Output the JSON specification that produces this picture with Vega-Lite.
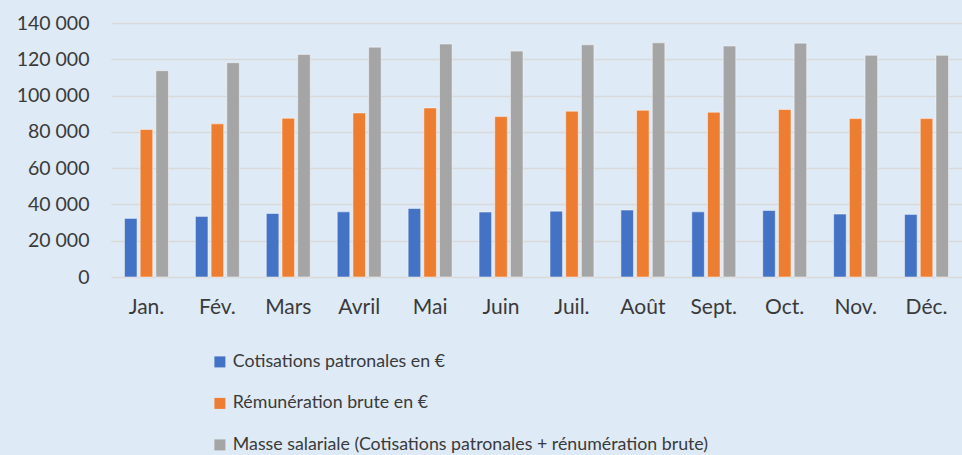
{
  "$schema": "https://vega.github.io/schema/vega-lite/v6.json",
  "width": 851,
  "height": 254,
  "autosize": {"type": "none"},
  "padding": {"left": 111, "top": 23, "right": 0, "bottom": 178},
  "background": "#DEEAF6",
  "config": {
    "view": {"stroke": null},
    "font": "Lato",
    "axis": {"labelFont": "Lato", "labelColor": "#3A3A3A"},
    "legend": {"labelFont": "Lato", "labelColor": "#3A3A3A"}
  },
  "data": {
    "values": [
      {"mois": "Jan.", "serie": "Cotisations patronales en €", "valeur": 32300},
      {"mois": "Jan.", "serie": "Rémunération brute en €", "valeur": 81300},
      {"mois": "Jan.", "serie": "Masse salariale (Cotisations patronales + rénumération brute)", "valeur": 113700},
      {"mois": "Fév.", "serie": "Cotisations patronales en €", "valeur": 33400},
      {"mois": "Fév.", "serie": "Rémunération brute en €", "valeur": 84400},
      {"mois": "Fév.", "serie": "Masse salariale (Cotisations patronales + rénumération brute)", "valeur": 118100},
      {"mois": "Mars", "serie": "Cotisations patronales en €", "valeur": 35000},
      {"mois": "Mars", "serie": "Rémunération brute en €", "valeur": 87500},
      {"mois": "Mars", "serie": "Masse salariale (Cotisations patronales + rénumération brute)", "valeur": 122700},
      {"mois": "Avril", "serie": "Cotisations patronales en €", "valeur": 35900},
      {"mois": "Avril", "serie": "Rémunération brute en €", "valeur": 90400},
      {"mois": "Avril", "serie": "Masse salariale (Cotisations patronales + rénumération brute)", "valeur": 126700},
      {"mois": "Mai", "serie": "Cotisations patronales en €", "valeur": 37800},
      {"mois": "Mai", "serie": "Rémunération brute en €", "valeur": 93200},
      {"mois": "Mai", "serie": "Masse salariale (Cotisations patronales + rénumération brute)", "valeur": 128400},
      {"mois": "Juin", "serie": "Cotisations patronales en €", "valeur": 35800},
      {"mois": "Juin", "serie": "Rémunération brute en €", "valeur": 88400},
      {"mois": "Juin", "serie": "Masse salariale (Cotisations patronales + rénumération brute)", "valeur": 124500},
      {"mois": "Juil.", "serie": "Cotisations patronales en €", "valeur": 36300},
      {"mois": "Juil.", "serie": "Rémunération brute en €", "valeur": 91400},
      {"mois": "Juil.", "serie": "Masse salariale (Cotisations patronales + rénumération brute)", "valeur": 128000},
      {"mois": "Août", "serie": "Cotisations patronales en €", "valeur": 36900},
      {"mois": "Août", "serie": "Rémunération brute en €", "valeur": 91900},
      {"mois": "Août", "serie": "Masse salariale (Cotisations patronales + rénumération brute)", "valeur": 129100},
      {"mois": "Sept.", "serie": "Cotisations patronales en €", "valeur": 35900},
      {"mois": "Sept.", "serie": "Rémunération brute en €", "valeur": 90800},
      {"mois": "Sept.", "serie": "Masse salariale (Cotisations patronales + rénumération brute)", "valeur": 127300},
      {"mois": "Oct.", "serie": "Cotisations patronales en €", "valeur": 36700},
      {"mois": "Oct.", "serie": "Rémunération brute en €", "valeur": 92300},
      {"mois": "Oct.", "serie": "Masse salariale (Cotisations patronales + rénumération brute)", "valeur": 128900},
      {"mois": "Nov.", "serie": "Cotisations patronales en €", "valeur": 34700},
      {"mois": "Nov.", "serie": "Rémunération brute en €", "valeur": 87300},
      {"mois": "Nov.", "serie": "Masse salariale (Cotisations patronales + rénumération brute)", "valeur": 122200},
      {"mois": "Déc.", "serie": "Cotisations patronales en €", "valeur": 34500},
      {"mois": "Déc.", "serie": "Rémunération brute en €", "valeur": 87300},
      {"mois": "Déc.", "serie": "Masse salariale (Cotisations patronales + rénumération brute)", "valeur": 122200}
    ]
  },
  "mark": {"type": "bar", "stroke": "#ffffff", "strokeWidth": 0.8, "strokeOpacity": 0.6},
  "encoding": {
    "x": {
      "field": "mois",
      "type": "nominal",
      "sort": null,
      "title": null,
      "scale": {"paddingInner": 0.38, "paddingOuter": 0.19},
      "axis": {"labelAngle": 0, "labelFontSize": 21, "ticks": false, "domain": false, "labelPadding": 19, "grid": false}
    },
    "xOffset": {
      "field": "serie",
      "type": "nominal",
      "sort": null,
      "scale": {"paddingInner": 0.2, "paddingOuter": 0}
    },
    "y": {
      "field": "valeur",
      "type": "quantitative",
      "title": null,
      "scale": {"domain": [0, 140000], "nice": false},
      "axis": {
        "values": [0, 20000, 40000, 60000, 80000, 100000, 120000, 140000],
        "labelExpr": "replace(format(datum.value, ',d'), ',', ' ')",
        "labelFontSize": 19.5,
        "ticks": false,
        "domain": false,
        "labelPadding": 22,
        "gridColor": "#D9D9D9",
        "gridWidth": 1.5
      }
    },
    "color": {
      "field": "serie",
      "type": "nominal",
      "sort": null,
      "scale": {
        "domain": ["Cotisations patronales en €", "Rémunération brute en €", "Masse salariale (Cotisations patronales + rénumération brute)"],
        "range": ["#4472C4", "#ED7D31", "#A5A5A5"]
      },
      "legend": {
        "title": null,
        "orient": "none",
        "legendX": 100,
        "legendY": 330,
        "direction": "vertical",
        "symbolType": "square",
        "symbolSize": 121,
        "symbolStrokeWidth": 0,
        "labelFontSize": 17.8,
        "labelLimit": 700,
        "labelOffset": 4,
        "rowPadding": 22.5
      }
    }
  }
}
